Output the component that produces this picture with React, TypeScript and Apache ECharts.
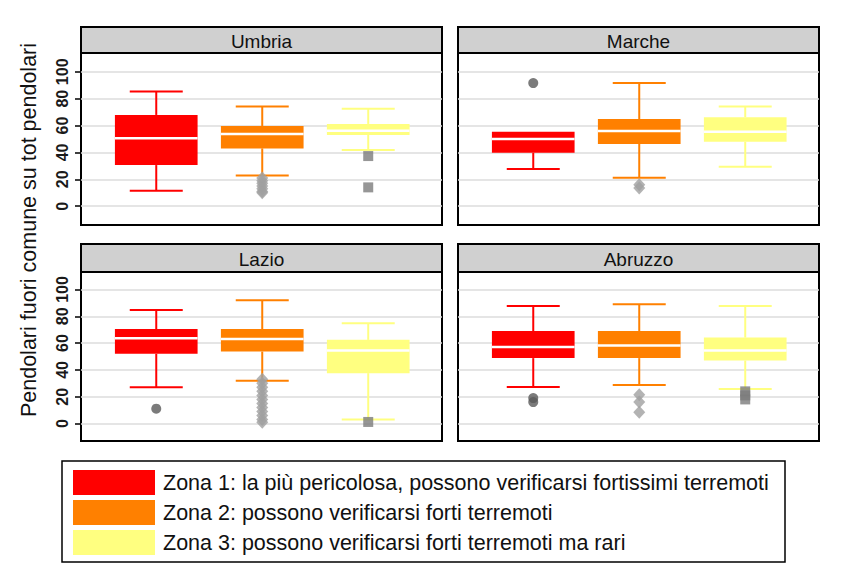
import React, { useEffect, useRef } from "react";
import * as echarts from "echarts";

const regions = ["Umbria", "Marche", "Lazio", "Abruzzo"];
const zoneNames = [
  "Zona 1: la più pericolosa, possono verificarsi fortissimi terremoti",
  "Zona 2: possono verificarsi forti terremoti",
  "Zona 3: possono verificarsi forti terremoti ma rari",
];
const zoneColors = ["#ff0000", "#ff8000", "#ffff80"];
const outlierColors = ["#5a5a5a", "#a0a0a0", "#7c7c7c"];
const outlierSymbols = ["circle", "diamond", "rect"];
const outlierSizes: any[] = [10, [12, 13], 10];

// [min, Q1, median, Q3, max] per region (Umbria, Marche, Lazio, Abruzzo)
const zona1Box = [
  [11.4, 30.6, 50.5, 67.9, 85.3],
  [27.6, 39.8, 50, 55.4, 55.4],
  [27, 52, 63.6, 70.5, 84.6],
  [27.2, 48.8, 57, 69, 87.6],
];
const zona2Box = [
  [22.9, 43, 53.7, 59.7, 74.1],
  [21.1, 46.3, 56, 64.9, 91.6],
  [31.9, 53.7, 63.1, 70.5, 92],
  [28.7, 48.8, 58.2, 69, 89],
];
const zona3Box = [
  [41.8, 53, 56.2, 61.2, 72.6],
  [29.3, 48, 55.4, 66.2, 74.1],
  [3, 37.6, 54.4, 62.4, 74.7],
  [25.7, 47, 54.4, 64.1, 87.6],
];

// outliers per region
const zona1Out = [[], [91.6], [11.1], [19, 16]];
const zona2Out = [
  [21, 19, 17, 15, 13, 11, 10],
  [16, 13.5],
  [33, 30, 27, 24, 21, 18, 15, 12, 9, 6, 3, 1],
  [21.5, 16.1, 8.4],
];
const zona3Out = [[37.3, 14], [], [1.2], [24, 21, 18]];

const tickValues = [0, 20, 40, 60, 80, 100];
const yTitle = "Pendolari fuori comune su tot pendolari";

const boxes = [zona1Box, zona2Box, zona3Box];
const outs = [zona1Out, zona2Out, zona3Out];

const FONT = "'Liberation Sans', Arial, sans-serif";

export default function App() {
  const ref = useRef<HTMLDivElement>(null);
  useEffect(() => {
    if (!ref.current) return;
    const chart = echarts.init(ref.current, undefined, { renderer: "svg" });

    const panels = [
      { left: 81, top: 53, width: 361, height: 172, min: -14, max: 114, labels: true },
      { left: 458, top: 53, width: 361, height: 172, min: -14, max: 114, labels: false },
      { left: 81, top: 272, width: 361, height: 169, min: -13, max: 113, labels: true },
      { left: 458, top: 272, width: 361, height: 169, min: -13, max: 113, labels: false },
    ];

    const grid = panels.map((p) => ({
      left: p.left,
      top: p.top,
      width: p.width,
      height: p.height,
      show: true,
      borderColor: "#000",
      borderWidth: 2,
      backgroundColor: "#fff",
    }));
    const xAxis = panels.map((p, i) => ({
      type: "value",
      gridIndex: i,
      min: 0.29,
      max: 3.696,
      show: false,
    }));
    const yAxis = panels.map((p, i) => ({
      type: "value",
      gridIndex: i,
      min: p.min,
      max: p.max,
      splitNumber: 6,
      minInterval: 20,
      maxInterval: 20,
      axisLine: { show: false },
      axisTick: {
        show: p.labels,
        length: 6,
        customValues: tickValues,
        lineStyle: { color: "#000", width: 1.5 },
      },
      axisLabel: {
        show: p.labels,
        rotate: 90,
        customValues: tickValues,
        fontSize: 16,
        fontWeight: "bold",
        color: "#1a1a1a",
        margin: 11,
        fontFamily: FONT,
        formatter: (v: number) => (v % 20 === 0 && v >= 0 && v <= 100 ? String(v) : ""),
      },
      splitLine: { show: true, lineStyle: { color: "#dcdcdc", width: 1.5 } },
    }));

    const renderBox = (params: any, api: any) => {
      const x = api.value(0);
      const mn = api.value(1), q1 = api.value(2), md = api.value(3), q3 = api.value(4), mx = api.value(5);
      const color = api.visual("color");
      const half = api.size([0.78, 0])[0] / 2;
      const capHalf = api.size([0.5, 0])[0] / 2;
      const pMin = api.coord([x, mn]);
      const pQ1 = api.coord([x, q1]);
      const pMd = api.coord([x, md]);
      const pQ3 = api.coord([x, q3]);
      const pMax = api.coord([x, mx]);
      const cx = pMin[0];
      const ls = { stroke: color, lineWidth: 2 };
      const children: any[] = [];
      if (mn < q1) {
        children.push({ type: "line", shape: { x1: cx, y1: pMin[1], x2: cx, y2: pQ1[1] }, style: ls });
        children.push({ type: "line", shape: { x1: cx - capHalf, y1: pMin[1], x2: cx + capHalf, y2: pMin[1] }, style: ls });
      }
      if (mx > q3) {
        children.push({ type: "line", shape: { x1: cx, y1: pQ3[1], x2: cx, y2: pMax[1] }, style: ls });
        children.push({ type: "line", shape: { x1: cx - capHalf, y1: pMax[1], x2: cx + capHalf, y2: pMax[1] }, style: ls });
      }
      children.push({
        type: "rect",
        shape: { x: cx - half, y: pQ3[1], width: half * 2, height: pQ1[1] - pQ3[1] },
        style: { fill: color },
      });
      children.push({
        type: "line",
        shape: { x1: cx - half, y1: pMd[1], x2: cx + half, y2: pMd[1] },
        style: { stroke: "#fff", lineWidth: 2.5 },
      });
      return { type: "group", children };
    };

    const series: any[] = [];
    for (let z = 0; z < 3; z++) {
      for (let r = 0; r < 4; r++) {
        series.push({
          type: "custom",
          name: zoneNames[z],
          xAxisIndex: r,
          yAxisIndex: r,
          itemStyle: { color: zoneColors[z] },
          renderItem: renderBox,
          encode: { x: 0, y: [1, 2, 3, 4, 5] },
          data: [[z + 1, ...boxes[z][r]]],
          z: 3,
        });
      }
    }
    for (let z = 0; z < 3; z++) {
      for (let r = 0; r < 4; r++) {
        series.push({
          type: "scatter",
          name: "outlier " + (z + 1),
          xAxisIndex: r,
          yAxisIndex: r,
          symbol: outlierSymbols[z],
          symbolSize: outlierSizes[z],
          itemStyle: { color: outlierColors[z] },
          data: outs[z][r].map((v) => [z + 1, v]),
          z: 4,
        });
      }
    }

    const headers: any[] = [];
    panels.forEach((p, i) => {
      const hy = i < 2 ? 27 : 244;
      headers.push({
        type: "rect",
        shape: { x: p.left, y: hy, width: p.width, height: p.top - hy },
        style: { fill: "#d0d0d0", stroke: "#000", lineWidth: 2 },
        z: 10,
      });
      headers.push({
        type: "text",
        x: p.left + p.width / 2,
        y: hy + (p.top - hy) / 2 + 1,
        style: {
          text: regions[i],
          fontSize: 19,
          fontFamily: FONT,
          fill: "#111",
          textAlign: "center",
          textVerticalAlign: "middle",
        },
        z: 11,
      });
    });

    chart.setOption({
      animation: false,
      textStyle: { fontFamily: FONT },
      grid,
      xAxis,
      yAxis,
      series,
      legend: {
        data: zoneNames,
        orient: "vertical",
        left: 68,
        top: 465,
        itemWidth: 82,
        itemHeight: 25,
        itemGap: 5,
        icon: "rect",
        selectedMode: false,
        textStyle: { fontSize: 21.5, color: "#111", fontFamily: FONT, padding: [0, 0, 0, 3] },
      },
      graphic: [
        ...headers,
        {
          type: "rect",
          shape: { x: 62, y: 461, width: 723, height: 101 },
          style: { fill: "none", stroke: "#000", lineWidth: 1.5 },
        },
        {
          type: "text",
          x: 29,
          y: 230,
          rotation: Math.PI / 2,
          style: {
            text: yTitle,
            fontSize: 21.5,
            fontFamily: FONT,
            fill: "#111",
            textAlign: "center",
            textVerticalAlign: "middle",
          },
        },
      ],
    });
    return () => chart.dispose();
  }, []);
  return (
    <div
      ref={ref}
      style={{ position: "fixed", left: 0, top: 0, width: 850, height: 568, background: "#fff" }}
    />
  );
}
